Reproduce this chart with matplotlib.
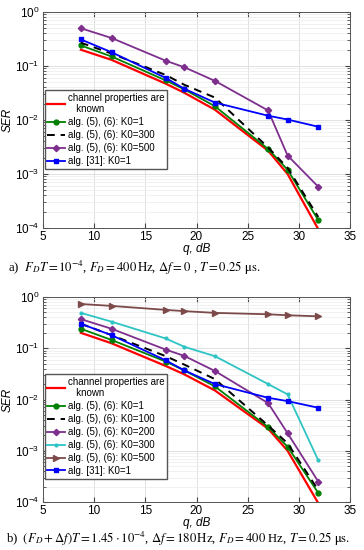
import matplotlib
matplotlib.use('Agg')
import matplotlib.pyplot as plt
import numpy as np

plt.rcParams['font.family'] = ['Liberation Sans', 'DejaVu Sans']

# SNR points (dB)
q = [8.7, 11.7, 17.0, 18.8, 21.8, 27.0, 28.9, 31.9]

# panel a)
red_a = [0.2, 0.13, 0.047, 0.032, 0.0155, 0.0027, 0.001, 0.000095]
green_a = [0.24, 0.15, 0.054, 0.037, 0.018, 0.0029, 0.0012, 0.00014]
black_a = [0.27, 0.17, 0.068, 0.045, 0.026, 0.0031, 0.0013, 0.00016]
purple_a = [0.5, 0.33, 0.125, 0.095, 0.053, 0.0150, 0.0022, 0.00058]
blue_a = [0.31, 0.18, 0.06, 0.038, 0.021, 0.012, 0.0102, 0.0075]

# panel b)
red_b = [0.2, 0.125, 0.045, 0.031, 0.015, 0.0027, 0.001, 0.000095]
green_b = [0.24, 0.145, 0.055, 0.037, 0.018, 0.0029, 0.0012, 0.00015]
black_b = [0.3, 0.18, 0.07, 0.048, 0.025, 0.0031, 0.0014, 0.00017]
purple_b = [0.37, 0.24, 0.094, 0.071, 0.036, 0.0085, 0.0022, 0.00025]
cyan_b = [0.49, 0.33, 0.155, 0.107, 0.07, 0.02, 0.0126, 0.00065]
brown_b = [0.73, 0.67, 0.56, 0.53, 0.49, 0.46, 0.44, 0.42]
blue_b = [0.30, 0.18, 0.058, 0.037, 0.020, 0.0108, 0.0093, 0.0069]

lbl_known = 'channel properties are\n   known'

RED = '#ff0000'
GREEN = '#008000'
PURPLE = '#7e2f8e'
BLUE = '#0000ff'
CYAN = '#2ec4c4'
BROWN = '#7d4a4a'


def style_axes(ax):
    ax.set_yscale('log')
    ax.set_xlim(5, 35)
    ax.set_ylim(1e-4, 1)
    ax.set_xticks([5, 10, 15, 20, 25, 30, 35])
    ax.grid(True, which='major', color='#dcdcdc', lw=0.6)
    ax.grid(True, which='minor', axis='y', color='#ececec', lw=0.5)
    ax.tick_params(which='both', direction='in', top=True, right=True,
                   labelsize=8.5, color='#444444', pad=2.5)
    for s in ax.spines.values():
        s.set_color('#555555')
        s.set_linewidth(0.7)
    ax.set_xlabel('q, dB', fontstyle='italic', fontsize=8.5, labelpad=0)
    ax.set_ylabel('SER', fontstyle='italic', fontsize=8.5, labelpad=1)


def add_legend(ax, top):
    ax.legend(loc='upper left', bbox_to_anchor=(0.005, top), fontsize=7,
              handlelength=1.8, handletextpad=0.3, borderpad=0.3, labelspacing=0.3,
              fancybox=False, edgecolor='#555555', framealpha=1, borderaxespad=0)


fig = plt.figure(figsize=(3.64, 5.5), dpi=100)
ax1 = fig.add_axes([43 / 364, 1 - 228 / 550, 307 / 364, 216 / 550])
ax2 = fig.add_axes([43 / 364, 1 - 502 / 550, 307 / 364, 205 / 550])

lw = 1.3
ax1.plot(q, red_a, color=RED, lw=1.6, label=lbl_known)
ax1.plot(q, green_a, color=GREEN, lw=lw, marker='o', ms=3.5, label='alg. (5), (6): K0=1')
ax1.plot(q, black_a, color='black', lw=1.4, ls=(0, (4, 3)), label='alg. (5), (6): K0=300')
ax1.plot(q, purple_a, color=PURPLE, lw=lw, marker='D', ms=3.2, label='alg. (5), (6): K0=500')
ax1.plot(q, blue_a, color=BLUE, lw=lw, marker='s', ms=2.5, label='alg. [31]: K0=1')
style_axes(ax1)
add_legend(ax1, 0.64)

ax2.plot(q, red_b, color=RED, lw=1.6, label=lbl_known)
ax2.plot(q, green_b, color=GREEN, lw=lw, marker='o', ms=3.5, label='alg. (5), (6): K0=1')
ax2.plot(q, black_b, color='black', lw=1.4, ls=(0, (4, 3)), label='alg. (5), (6): K0=100')
ax2.plot(q, purple_b, color=PURPLE, lw=lw, marker='D', ms=3.2, label='alg. (5), (6): K0=200')
ax2.plot(q, cyan_b, color=CYAN, lw=lw, marker='.', ms=4, label='alg. (5), (6): K0=300')
ax2.plot(q, brown_b, color=BROWN, lw=lw, marker='>', ms=4, label='alg. (5), (6): K0=500')
ax2.plot(q, blue_b, color=BLUE, lw=lw, marker='s', ms=2.5, label='alg. [31]: K0=1')
style_axes(ax2)
add_legend(ax2, 0.625)

cap = dict(family='Liberation Serif', math_fontfamily='stix', fontsize=9.2,
           ha='left', va='center')
fig.text(8 / 364, 1 - 268 / 550,
         r'a)  $F_DT=10^{-4}$, $F_D=400\,\mathrm{Hz}$, $\Delta f=0$ , $T=0.25$ $\mathrm{\mu s}$.',
         **cap)
fig.text(6 / 364, 1 - 539 / 550,
         r'b)  $(F_D+\Delta f)T=1.45\cdot10^{-4}$, $\Delta f=180\,\mathrm{Hz}$, '
         r'$F_D=400$ Hz, $T=0.25$ $\mathrm{\mu s}$.',
         **cap)

fig.savefig('out.png', dpi=100, facecolor='white')
